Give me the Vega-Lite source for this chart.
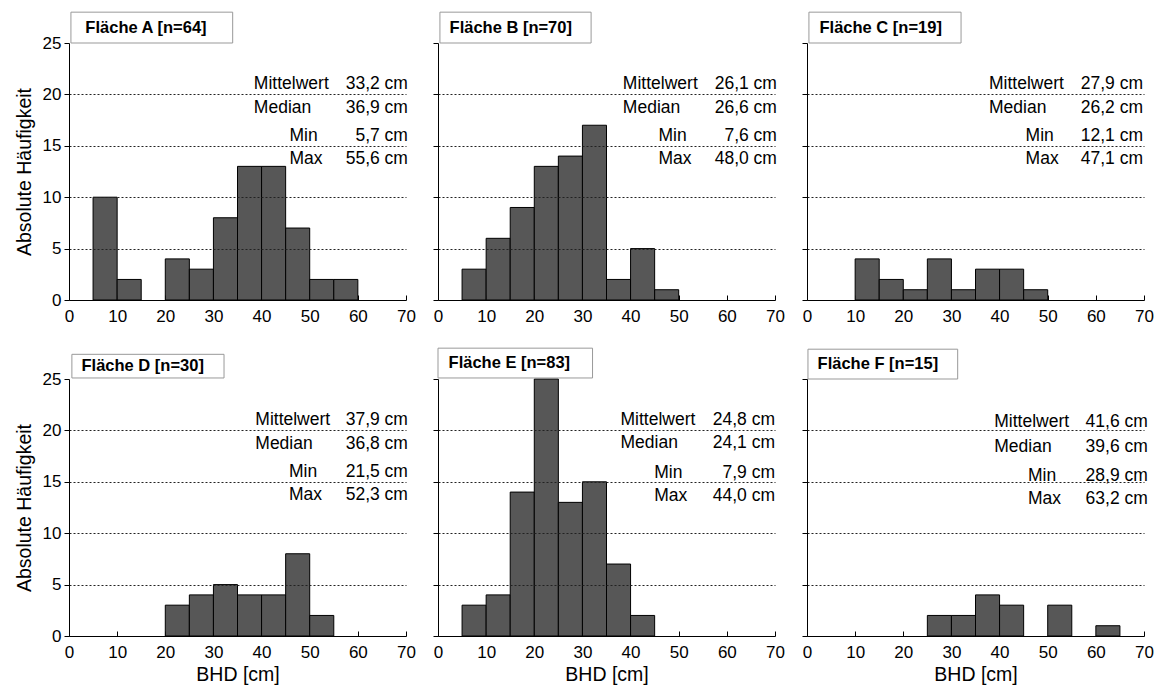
{
  "$schema": "https://vega.github.io/schema/vega-lite/v6.json",
  "padding": {"left": 14, "top": 11, "right": 5, "bottom": 2},
  "columns": 3,
  "spacing": {"row": 79, "column": 32},
  "bounds": "flush",
  "datasets": {
    "bars": [
      {"p": "A", "x0": 5, "x1": 10, "n": 10},
      {"p": "A", "x0": 10, "x1": 15, "n": 2},
      {"p": "A", "x0": 20, "x1": 25, "n": 4},
      {"p": "A", "x0": 25, "x1": 30, "n": 3},
      {"p": "A", "x0": 30, "x1": 35, "n": 8},
      {"p": "A", "x0": 35, "x1": 40, "n": 13},
      {"p": "A", "x0": 40, "x1": 45, "n": 13},
      {"p": "A", "x0": 45, "x1": 50, "n": 7},
      {"p": "A", "x0": 50, "x1": 55, "n": 2},
      {"p": "A", "x0": 55, "x1": 60, "n": 2},
      {"p": "B", "x0": 5, "x1": 10, "n": 3},
      {"p": "B", "x0": 10, "x1": 15, "n": 6},
      {"p": "B", "x0": 15, "x1": 20, "n": 9},
      {"p": "B", "x0": 20, "x1": 25, "n": 13},
      {"p": "B", "x0": 25, "x1": 30, "n": 14},
      {"p": "B", "x0": 30, "x1": 35, "n": 17},
      {"p": "B", "x0": 35, "x1": 40, "n": 2},
      {"p": "B", "x0": 40, "x1": 45, "n": 5},
      {"p": "B", "x0": 45, "x1": 50, "n": 1},
      {"p": "C", "x0": 10, "x1": 15, "n": 4},
      {"p": "C", "x0": 15, "x1": 20, "n": 2},
      {"p": "C", "x0": 20, "x1": 25, "n": 1},
      {"p": "C", "x0": 25, "x1": 30, "n": 4},
      {"p": "C", "x0": 30, "x1": 35, "n": 1},
      {"p": "C", "x0": 35, "x1": 40, "n": 3},
      {"p": "C", "x0": 40, "x1": 45, "n": 3},
      {"p": "C", "x0": 45, "x1": 50, "n": 1},
      {"p": "D", "x0": 20, "x1": 25, "n": 3},
      {"p": "D", "x0": 25, "x1": 30, "n": 4},
      {"p": "D", "x0": 30, "x1": 35, "n": 5},
      {"p": "D", "x0": 35, "x1": 40, "n": 4},
      {"p": "D", "x0": 40, "x1": 45, "n": 4},
      {"p": "D", "x0": 45, "x1": 50, "n": 8},
      {"p": "D", "x0": 50, "x1": 55, "n": 2},
      {"p": "E", "x0": 5, "x1": 10, "n": 3},
      {"p": "E", "x0": 10, "x1": 15, "n": 4},
      {"p": "E", "x0": 15, "x1": 20, "n": 14},
      {"p": "E", "x0": 20, "x1": 25, "n": 25},
      {"p": "E", "x0": 25, "x1": 30, "n": 13},
      {"p": "E", "x0": 30, "x1": 35, "n": 15},
      {"p": "E", "x0": 35, "x1": 40, "n": 7},
      {"p": "E", "x0": 40, "x1": 45, "n": 2},
      {"p": "F", "x0": 25, "x1": 30, "n": 2},
      {"p": "F", "x0": 30, "x1": 35, "n": 2},
      {"p": "F", "x0": 35, "x1": 40, "n": 4},
      {"p": "F", "x0": 40, "x1": 45, "n": 3},
      {"p": "F", "x0": 50, "x1": 55, "n": 3},
      {"p": "F", "x0": 60, "x1": 65, "n": 1}
    ],
    "info": [
      {"p": "A", "title": "Fläche A [n=64]", "mean": "33,2 cm", "median": "36,9 cm", "min": "5,7 cm", "max": "55,6 cm"},
      {"p": "B", "title": "Fläche B [n=70]", "mean": "26,1 cm", "median": "26,6 cm", "min": "7,6 cm", "max": "48,0 cm"},
      {"p": "C", "title": "Fläche C [n=19]", "mean": "27,9 cm", "median": "26,2 cm", "min": "12,1 cm", "max": "47,1 cm"},
      {"p": "D", "title": "Fläche D [n=30]", "mean": "37,9 cm", "median": "36,8 cm", "min": "21,5 cm", "max": "52,3 cm"},
      {"p": "E", "title": "Fläche E [n=83]", "mean": "24,8 cm", "median": "24,1 cm", "min": "7,9 cm", "max": "44,0 cm"},
      {"p": "F", "title": "Fläche F [n=15]", "mean": "41,6 cm", "median": "39,6 cm", "min": "28,9 cm", "max": "63,2 cm"}
    ]
  },
  "concat": [
    {
      "width": 337, "height": 257,
      "layer": [
        {
          "data": {"name": "bars"},
          "transform": [{"filter": "datum.p === 'A'"}],
          "mark": {"type": "rect", "fill": "#575757", "stroke": "#000", "strokeWidth": 1},
          "encoding": {
            "x": {"field": "x0", "type": "quantitative", "scale": {"domain": [0, 70], "nice": false},
              "axis": {"title": null, "values": [0,5,10,15,20,25,30,35,40,45,50,55,60,65,70], "labelExpr": "datum.value % 10 === 0 ? datum.label : ''", "tickSize": {"condition": {"test": "datum.value % 10 === 0", "value": -5}, "value": -3}, "labelPadding": 13}},
            "x2": {"field": "x1"},
            "y": {"field": "n", "type": "quantitative", "scale": {"domain": [0, 25], "nice": false},
              "axis": {"title": "Absolute Häufigkeit", "values": [0,2.5,5,7.5,10,12.5,15,17.5,20,22.5,25], "labelExpr": "datum.value % 5 === 0 ? datum.label : ''", "tickSize": {"condition": {"test": "datum.value % 5 === 0", "value": 5}, "value": 3}, "labelPadding": 3, "titlePadding": 8, "grid": true, "gridDash": [2, 2], "gridColor": "#222", "gridOpacity": {"condition": {"test": "datum.value % 5 === 0 && datum.value > 0 && datum.value < 25", "value": 1}, "value": 0}, "zindex": 1}},
            "y2": {"datum": 0}
          }
        },
        {
          "data": {"name": "info"},
          "transform": [{"filter": "datum.p === 'A'"}],
          "layer": [
            {"mark": {"type": "rect", "fill": "#fff", "stroke": "#999", "strokeWidth": 1}, "encoding": {"x": {"datum": 0.4, "type": "quantitative"}, "x2": {"datum": 34}, "y": {"datum": 25, "type": "quantitative"}, "y2": {"datum": 28}}},
            {"mark": {"type": "text", "align": "left", "baseline": "middle", "fontWeight": "bold", "fontSize": 16.5}, "encoding": {"x": {"datum": 3.4, "type": "quantitative"}, "y": {"datum": 26.5, "type": "quantitative"}, "text": {"field": "title"}}},
            {"mark": {"type": "text", "text": "Mittelwert", "align": "left"}, "encoding": {"x": {"datum": 38.4, "type": "quantitative"}, "y": {"datum": 20.5, "type": "quantitative"}}},
            {"mark": {"type": "text", "text": "Median", "align": "left"}, "encoding": {"x": {"datum": 38.4, "type": "quantitative"}, "y": {"datum": 18.2, "type": "quantitative"}}},
            {"mark": {"type": "text", "text": "Min", "align": "left"}, "encoding": {"x": {"datum": 45.8, "type": "quantitative"}, "y": {"datum": 15.5, "type": "quantitative"}}},
            {"mark": {"type": "text", "text": "Max", "align": "left"}, "encoding": {"x": {"datum": 45.8, "type": "quantitative"}, "y": {"datum": 13.2, "type": "quantitative"}}},
            {"mark": {"type": "text", "align": "right"}, "encoding": {"x": {"datum": 70.4, "type": "quantitative"}, "y": {"datum": 20.5, "type": "quantitative"}, "text": {"field": "mean"}}},
            {"mark": {"type": "text", "align": "right"}, "encoding": {"x": {"datum": 70.4, "type": "quantitative"}, "y": {"datum": 18.2, "type": "quantitative"}, "text": {"field": "median"}}},
            {"mark": {"type": "text", "align": "right"}, "encoding": {"x": {"datum": 70.4, "type": "quantitative"}, "y": {"datum": 15.5, "type": "quantitative"}, "text": {"field": "min"}}},
            {"mark": {"type": "text", "align": "right"}, "encoding": {"x": {"datum": 70.4, "type": "quantitative"}, "y": {"datum": 13.2, "type": "quantitative"}, "text": {"field": "max"}}}
          ]
        }
      ]
    },
    {
      "width": 337, "height": 257,
      "layer": [
        {
          "data": {"name": "bars"},
          "transform": [{"filter": "datum.p === 'B'"}],
          "mark": {"type": "rect", "fill": "#575757", "stroke": "#000", "strokeWidth": 1},
          "encoding": {
            "x": {"field": "x0", "type": "quantitative", "scale": {"domain": [0, 70], "nice": false},
              "axis": {"title": null, "values": [0,5,10,15,20,25,30,35,40,45,50,55,60,65,70], "labelExpr": "datum.value % 10 === 0 ? datum.label : ''", "tickSize": {"condition": {"test": "datum.value % 10 === 0", "value": -5}, "value": -3}, "labelPadding": 13}},
            "x2": {"field": "x1"},
            "y": {"field": "n", "type": "quantitative", "scale": {"domain": [0, 25], "nice": false},
              "axis": {"title": null, "labels": false, "values": [0,2.5,5,7.5,10,12.5,15,17.5,20,22.5,25], "tickSize": {"condition": {"test": "datum.value % 5 === 0", "value": 5}, "value": 3}, "grid": true, "gridDash": [2, 2], "gridColor": "#222", "gridOpacity": {"condition": {"test": "datum.value % 5 === 0 && datum.value > 0 && datum.value < 25", "value": 1}, "value": 0}, "zindex": 1}},
            "y2": {"datum": 0}
          }
        },
        {
          "data": {"name": "info"},
          "transform": [{"filter": "datum.p === 'B'"}],
          "layer": [
            {"mark": {"type": "rect", "fill": "#fff", "stroke": "#999", "strokeWidth": 1}, "encoding": {"x": {"datum": 0.4, "type": "quantitative"}, "x2": {"datum": 31.8}, "y": {"datum": 25, "type": "quantitative"}, "y2": {"datum": 28}}},
            {"mark": {"type": "text", "align": "left", "baseline": "middle", "fontWeight": "bold", "fontSize": 16.5}, "encoding": {"x": {"datum": 2.4, "type": "quantitative"}, "y": {"datum": 26.5, "type": "quantitative"}, "text": {"field": "title"}}},
            {"mark": {"type": "text", "text": "Mittelwert", "align": "left"}, "encoding": {"x": {"datum": 38.4, "type": "quantitative"}, "y": {"datum": 20.5, "type": "quantitative"}}},
            {"mark": {"type": "text", "text": "Median", "align": "left"}, "encoding": {"x": {"datum": 38.4, "type": "quantitative"}, "y": {"datum": 18.2, "type": "quantitative"}}},
            {"mark": {"type": "text", "text": "Min", "align": "left"}, "encoding": {"x": {"datum": 45.8, "type": "quantitative"}, "y": {"datum": 15.5, "type": "quantitative"}}},
            {"mark": {"type": "text", "text": "Max", "align": "left"}, "encoding": {"x": {"datum": 45.8, "type": "quantitative"}, "y": {"datum": 13.2, "type": "quantitative"}}},
            {"mark": {"type": "text", "align": "right"}, "encoding": {"x": {"datum": 70.4, "type": "quantitative"}, "y": {"datum": 20.5, "type": "quantitative"}, "text": {"field": "mean"}}},
            {"mark": {"type": "text", "align": "right"}, "encoding": {"x": {"datum": 70.4, "type": "quantitative"}, "y": {"datum": 18.2, "type": "quantitative"}, "text": {"field": "median"}}},
            {"mark": {"type": "text", "align": "right"}, "encoding": {"x": {"datum": 70.4, "type": "quantitative"}, "y": {"datum": 15.5, "type": "quantitative"}, "text": {"field": "min"}}},
            {"mark": {"type": "text", "align": "right"}, "encoding": {"x": {"datum": 70.4, "type": "quantitative"}, "y": {"datum": 13.2, "type": "quantitative"}, "text": {"field": "max"}}}
          ]
        }
      ]
    },
    {
      "width": 337, "height": 257,
      "layer": [
        {
          "data": {"name": "bars"},
          "transform": [{"filter": "datum.p === 'C'"}],
          "mark": {"type": "rect", "fill": "#575757", "stroke": "#000", "strokeWidth": 1},
          "encoding": {
            "x": {"field": "x0", "type": "quantitative", "scale": {"domain": [0, 70], "nice": false},
              "axis": {"title": null, "values": [0,5,10,15,20,25,30,35,40,45,50,55,60,65,70], "labelExpr": "datum.value % 10 === 0 ? datum.label : ''", "tickSize": {"condition": {"test": "datum.value % 10 === 0", "value": -5}, "value": -3}, "labelPadding": 13}},
            "x2": {"field": "x1"},
            "y": {"field": "n", "type": "quantitative", "scale": {"domain": [0, 25], "nice": false},
              "axis": {"title": null, "labels": false, "values": [0,2.5,5,7.5,10,12.5,15,17.5,20,22.5,25], "tickSize": {"condition": {"test": "datum.value % 5 === 0", "value": 5}, "value": 3}, "grid": true, "gridDash": [2, 2], "gridColor": "#222", "gridOpacity": {"condition": {"test": "datum.value % 5 === 0 && datum.value > 0 && datum.value < 25", "value": 1}, "value": 0}, "zindex": 1}},
            "y2": {"datum": 0}
          }
        },
        {
          "data": {"name": "info"},
          "transform": [{"filter": "datum.p === 'C'"}],
          "layer": [
            {"mark": {"type": "rect", "fill": "#fff", "stroke": "#999", "strokeWidth": 1}, "encoding": {"x": {"datum": 0.4, "type": "quantitative"}, "x2": {"datum": 32}, "y": {"datum": 25, "type": "quantitative"}, "y2": {"datum": 28}}},
            {"mark": {"type": "text", "align": "left", "baseline": "middle", "fontWeight": "bold", "fontSize": 16.5}, "encoding": {"x": {"datum": 2.6, "type": "quantitative"}, "y": {"datum": 26.5, "type": "quantitative"}, "text": {"field": "title"}}},
            {"mark": {"type": "text", "text": "Mittelwert", "align": "left"}, "encoding": {"x": {"datum": 37.8, "type": "quantitative"}, "y": {"datum": 20.5, "type": "quantitative"}}},
            {"mark": {"type": "text", "text": "Median", "align": "left"}, "encoding": {"x": {"datum": 37.8, "type": "quantitative"}, "y": {"datum": 18.2, "type": "quantitative"}}},
            {"mark": {"type": "text", "text": "Min", "align": "left"}, "encoding": {"x": {"datum": 45.4, "type": "quantitative"}, "y": {"datum": 15.5, "type": "quantitative"}}},
            {"mark": {"type": "text", "text": "Max", "align": "left"}, "encoding": {"x": {"datum": 45.4, "type": "quantitative"}, "y": {"datum": 13.2, "type": "quantitative"}}},
            {"mark": {"type": "text", "align": "right"}, "encoding": {"x": {"datum": 69.8, "type": "quantitative"}, "y": {"datum": 20.5, "type": "quantitative"}, "text": {"field": "mean"}}},
            {"mark": {"type": "text", "align": "right"}, "encoding": {"x": {"datum": 69.8, "type": "quantitative"}, "y": {"datum": 18.2, "type": "quantitative"}, "text": {"field": "median"}}},
            {"mark": {"type": "text", "align": "right"}, "encoding": {"x": {"datum": 69.8, "type": "quantitative"}, "y": {"datum": 15.5, "type": "quantitative"}, "text": {"field": "min"}}},
            {"mark": {"type": "text", "align": "right"}, "encoding": {"x": {"datum": 69.8, "type": "quantitative"}, "y": {"datum": 13.2, "type": "quantitative"}, "text": {"field": "max"}}}
          ]
        }
      ]
    },
    {
      "width": 337, "height": 257,
      "layer": [
        {
          "data": {"name": "bars"},
          "transform": [{"filter": "datum.p === 'D'"}],
          "mark": {"type": "rect", "fill": "#575757", "stroke": "#000", "strokeWidth": 1},
          "encoding": {
            "x": {"field": "x0", "type": "quantitative", "scale": {"domain": [0, 70], "nice": false},
              "axis": {"title": "BHD [cm]", "titlePadding": 5, "values": [0,5,10,15,20,25,30,35,40,45,50,55,60,65,70], "labelExpr": "datum.value % 10 === 0 ? datum.label : ''", "tickSize": {"condition": {"test": "datum.value % 10 === 0", "value": -5}, "value": -3}, "labelPadding": 13}},
            "x2": {"field": "x1"},
            "y": {"field": "n", "type": "quantitative", "scale": {"domain": [0, 25], "nice": false},
              "axis": {"title": "Absolute Häufigkeit", "values": [0,2.5,5,7.5,10,12.5,15,17.5,20,22.5,25], "labelExpr": "datum.value % 5 === 0 ? datum.label : ''", "tickSize": {"condition": {"test": "datum.value % 5 === 0", "value": 5}, "value": 3}, "labelPadding": 3, "titlePadding": 8, "grid": true, "gridDash": [2, 2], "gridColor": "#222", "gridOpacity": {"condition": {"test": "datum.value % 5 === 0 && datum.value > 0 && datum.value < 25", "value": 1}, "value": 0}, "zindex": 1}},
            "y2": {"datum": 0}
          }
        },
        {
          "data": {"name": "info"},
          "transform": [{"filter": "datum.p === 'D'"}],
          "layer": [
            {"mark": {"type": "rect", "fill": "#fff", "stroke": "#999", "strokeWidth": 1}, "encoding": {"x": {"datum": 0.6, "type": "quantitative"}, "x2": {"datum": 32.2}, "y": {"datum": 25.1, "type": "quantitative"}, "y2": {"datum": 27.4}}},
            {"mark": {"type": "text", "align": "left", "baseline": "middle", "fontWeight": "bold", "fontSize": 16.5}, "encoding": {"x": {"datum": 2.6, "type": "quantitative"}, "y": {"datum": 26.25, "type": "quantitative"}, "text": {"field": "title"}}},
            {"mark": {"type": "text", "text": "Mittelwert", "align": "left"}, "encoding": {"x": {"datum": 38.7, "type": "quantitative"}, "y": {"datum": 20.5, "type": "quantitative"}}},
            {"mark": {"type": "text", "text": "Median", "align": "left"}, "encoding": {"x": {"datum": 38.7, "type": "quantitative"}, "y": {"datum": 18.2, "type": "quantitative"}}},
            {"mark": {"type": "text", "text": "Min", "align": "left"}, "encoding": {"x": {"datum": 45.7, "type": "quantitative"}, "y": {"datum": 15.5, "type": "quantitative"}}},
            {"mark": {"type": "text", "text": "Max", "align": "left"}, "encoding": {"x": {"datum": 45.7, "type": "quantitative"}, "y": {"datum": 13.2, "type": "quantitative"}}},
            {"mark": {"type": "text", "align": "right"}, "encoding": {"x": {"datum": 70.4, "type": "quantitative"}, "y": {"datum": 20.5, "type": "quantitative"}, "text": {"field": "mean"}}},
            {"mark": {"type": "text", "align": "right"}, "encoding": {"x": {"datum": 70.4, "type": "quantitative"}, "y": {"datum": 18.2, "type": "quantitative"}, "text": {"field": "median"}}},
            {"mark": {"type": "text", "align": "right"}, "encoding": {"x": {"datum": 70.4, "type": "quantitative"}, "y": {"datum": 15.5, "type": "quantitative"}, "text": {"field": "min"}}},
            {"mark": {"type": "text", "align": "right"}, "encoding": {"x": {"datum": 70.4, "type": "quantitative"}, "y": {"datum": 13.2, "type": "quantitative"}, "text": {"field": "max"}}}
          ]
        }
      ]
    },
    {
      "width": 337, "height": 257,
      "layer": [
        {
          "data": {"name": "bars"},
          "transform": [{"filter": "datum.p === 'E'"}],
          "mark": {"type": "rect", "fill": "#575757", "stroke": "#000", "strokeWidth": 1},
          "encoding": {
            "x": {"field": "x0", "type": "quantitative", "scale": {"domain": [0, 70], "nice": false},
              "axis": {"title": "BHD [cm]", "titlePadding": 5, "values": [0,5,10,15,20,25,30,35,40,45,50,55,60,65,70], "labelExpr": "datum.value % 10 === 0 ? datum.label : ''", "tickSize": {"condition": {"test": "datum.value % 10 === 0", "value": -5}, "value": -3}, "labelPadding": 13}},
            "x2": {"field": "x1"},
            "y": {"field": "n", "type": "quantitative", "scale": {"domain": [0, 25], "nice": false},
              "axis": {"title": null, "labels": false, "values": [0,2.5,5,7.5,10,12.5,15,17.5,20,22.5,25], "tickSize": {"condition": {"test": "datum.value % 5 === 0", "value": 5}, "value": 3}, "grid": true, "gridDash": [2, 2], "gridColor": "#222", "gridOpacity": {"condition": {"test": "datum.value % 5 === 0 && datum.value > 0 && datum.value < 25", "value": 1}, "value": 0}, "zindex": 1}},
            "y2": {"datum": 0}
          }
        },
        {
          "data": {"name": "info"},
          "transform": [{"filter": "datum.p === 'E'"}],
          "layer": [
            {"mark": {"type": "rect", "fill": "#fff", "stroke": "#999", "strokeWidth": 1}, "encoding": {"x": {"datum": 0, "type": "quantitative"}, "x2": {"datum": 32.1}, "y": {"datum": 25.1, "type": "quantitative"}, "y2": {"datum": 28}}},
            {"mark": {"type": "text", "align": "left", "baseline": "middle", "fontWeight": "bold", "fontSize": 16.5}, "encoding": {"x": {"datum": 2.2, "type": "quantitative"}, "y": {"datum": 26.55, "type": "quantitative"}, "text": {"field": "title"}}},
            {"mark": {"type": "text", "text": "Mittelwert", "align": "left"}, "encoding": {"x": {"datum": 37.9, "type": "quantitative"}, "y": {"datum": 20.5, "type": "quantitative"}}},
            {"mark": {"type": "text", "text": "Median", "align": "left"}, "encoding": {"x": {"datum": 37.9, "type": "quantitative"}, "y": {"datum": 18.3, "type": "quantitative"}}},
            {"mark": {"type": "text", "text": "Min", "align": "left"}, "encoding": {"x": {"datum": 44.9, "type": "quantitative"}, "y": {"datum": 15.4, "type": "quantitative"}}},
            {"mark": {"type": "text", "text": "Max", "align": "left"}, "encoding": {"x": {"datum": 44.9, "type": "quantitative"}, "y": {"datum": 13.1, "type": "quantitative"}}},
            {"mark": {"type": "text", "align": "right"}, "encoding": {"x": {"datum": 70.0, "type": "quantitative"}, "y": {"datum": 20.5, "type": "quantitative"}, "text": {"field": "mean"}}},
            {"mark": {"type": "text", "align": "right"}, "encoding": {"x": {"datum": 70.0, "type": "quantitative"}, "y": {"datum": 18.3, "type": "quantitative"}, "text": {"field": "median"}}},
            {"mark": {"type": "text", "align": "right"}, "encoding": {"x": {"datum": 70.0, "type": "quantitative"}, "y": {"datum": 15.4, "type": "quantitative"}, "text": {"field": "min"}}},
            {"mark": {"type": "text", "align": "right"}, "encoding": {"x": {"datum": 70.0, "type": "quantitative"}, "y": {"datum": 13.1, "type": "quantitative"}, "text": {"field": "max"}}}
          ]
        }
      ]
    },
    {
      "width": 337, "height": 257,
      "layer": [
        {
          "data": {"name": "bars"},
          "transform": [{"filter": "datum.p === 'F'"}],
          "mark": {"type": "rect", "fill": "#575757", "stroke": "#000", "strokeWidth": 1},
          "encoding": {
            "x": {"field": "x0", "type": "quantitative", "scale": {"domain": [0, 70], "nice": false},
              "axis": {"title": "BHD [cm]", "titlePadding": 5, "values": [0,5,10,15,20,25,30,35,40,45,50,55,60,65,70], "labelExpr": "datum.value % 10 === 0 ? datum.label : ''", "tickSize": {"condition": {"test": "datum.value % 10 === 0", "value": -5}, "value": -3}, "labelPadding": 13}},
            "x2": {"field": "x1"},
            "y": {"field": "n", "type": "quantitative", "scale": {"domain": [0, 25], "nice": false},
              "axis": {"title": null, "labels": false, "values": [0,2.5,5,7.5,10,12.5,15,17.5,20,22.5,25], "tickSize": {"condition": {"test": "datum.value % 5 === 0", "value": 5}, "value": 3}, "grid": true, "gridDash": [2, 2], "gridColor": "#222", "gridOpacity": {"condition": {"test": "datum.value % 5 === 0 && datum.value > 0 && datum.value < 25", "value": 1}, "value": 0}, "zindex": 1}},
            "y2": {"datum": 0}
          }
        },
        {
          "data": {"name": "info"},
          "transform": [{"filter": "datum.p === 'F'"}],
          "layer": [
            {"mark": {"type": "rect", "fill": "#fff", "stroke": "#999", "strokeWidth": 1}, "encoding": {"x": {"datum": 0.2, "type": "quantitative"}, "x2": {"datum": 31.3}, "y": {"datum": 25, "type": "quantitative"}, "y2": {"datum": 27.9}}},
            {"mark": {"type": "text", "align": "left", "baseline": "middle", "fontWeight": "bold", "fontSize": 16.5}, "encoding": {"x": {"datum": 2.2, "type": "quantitative"}, "y": {"datum": 26.45, "type": "quantitative"}, "text": {"field": "title"}}},
            {"mark": {"type": "text", "text": "Mittelwert", "align": "left"}, "encoding": {"x": {"datum": 38.9, "type": "quantitative"}, "y": {"datum": 20.3, "type": "quantitative"}}},
            {"mark": {"type": "text", "text": "Median", "align": "left"}, "encoding": {"x": {"datum": 38.9, "type": "quantitative"}, "y": {"datum": 17.9, "type": "quantitative"}}},
            {"mark": {"type": "text", "text": "Min", "align": "left"}, "encoding": {"x": {"datum": 45.9, "type": "quantitative"}, "y": {"datum": 15.1, "type": "quantitative"}}},
            {"mark": {"type": "text", "text": "Max", "align": "left"}, "encoding": {"x": {"datum": 45.9, "type": "quantitative"}, "y": {"datum": 12.8, "type": "quantitative"}}},
            {"mark": {"type": "text", "align": "right"}, "encoding": {"x": {"datum": 70.8, "type": "quantitative"}, "y": {"datum": 20.3, "type": "quantitative"}, "text": {"field": "mean"}}},
            {"mark": {"type": "text", "align": "right"}, "encoding": {"x": {"datum": 70.8, "type": "quantitative"}, "y": {"datum": 17.9, "type": "quantitative"}, "text": {"field": "median"}}},
            {"mark": {"type": "text", "align": "right"}, "encoding": {"x": {"datum": 70.8, "type": "quantitative"}, "y": {"datum": 15.1, "type": "quantitative"}, "text": {"field": "min"}}},
            {"mark": {"type": "text", "align": "right"}, "encoding": {"x": {"datum": 70.8, "type": "quantitative"}, "y": {"datum": 12.8, "type": "quantitative"}, "text": {"field": "max"}}}
          ]
        }
      ]
    }
  ],
  "config": {
    "font": "Liberation Sans",
    "view": {"stroke": null},
    "axis": {"domainColor": "#000", "domainWidth": 1, "tickColor": "#000", "tickWidth": 1, "labelColor": "#000", "labelFontSize": 17, "labelFont": "Liberation Sans", "titleColor": "#000", "titleFontSize": 19.5, "titleFontWeight": "normal", "titleFont": "Liberation Sans", "labelOverlap": false, "labelFlush": false, "grid": false},
    "text": {"fontSize": 17.5, "baseline": "alphabetic", "color": "#000", "font": "Liberation Sans"}
  }
}
